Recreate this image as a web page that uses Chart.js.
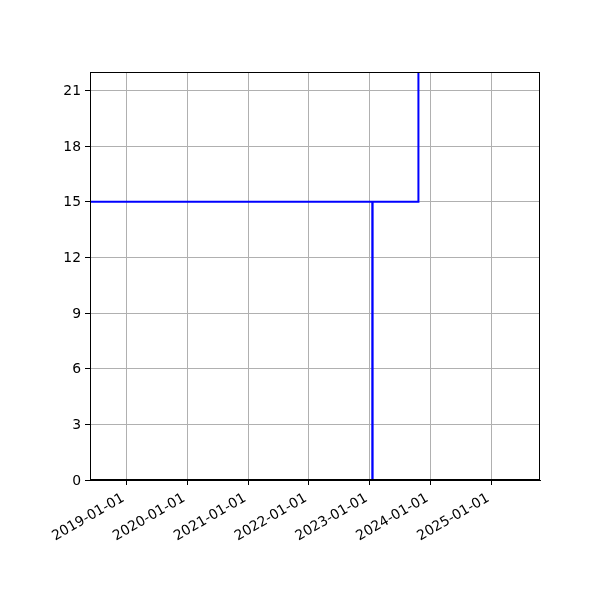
<!DOCTYPE html>
<html>
<head>
<meta charset="utf-8">
<script src="https://cdn.jsdelivr.net/npm/chart.js@4.4.1/dist/chart.umd.min.js"></script>
<style>
  html, body { margin: 0; padding: 0; background: #fff; }
  #wrap { width: 600px; height: 600px; }
</style>
</head>
<body>
<div id="wrap"><canvas id="c" width="600" height="600"></canvas></div>
<script>
// ---- data ----
const stepDates = ['2018-01-01', '2023-01-17', '2023-01-19', '2023-10-21'];
const stepValues = [15, 0, 15, 30];
const xTickLabels = ['2019-01-01', '2020-01-01', '2021-01-01', '2022-01-01', '2023-01-01', '2024-01-01', '2025-01-01'];
const yTickValues = [0, 3, 6, 9, 12, 15, 18, 21];
const xRange = ['2018-05-28', '2025-10-20'];
const yRange = [0, 22];

const toMs = s => Date.parse(s + 'T00:00:00Z');
const pad2 = n => String(n).padStart(2, '0');
const fmt = ms => { const d = new Date(ms); return d.getUTCFullYear() + '-' + pad2(d.getUTCMonth() + 1) + '-' + pad2(d.getUTCDate()); };

const points = stepDates.map((d, i) => ({ x: toMs(d), y: stepValues[i] }));

const frame = {
  id: 'frame',
  afterDatasetsDraw(chart) {
    const a = chart.chartArea, ctx = chart.ctx;
    ctx.save();
    ctx.strokeStyle = '#000';
    ctx.lineWidth = 1;
    ctx.strokeRect(Math.round(a.left) + 0.5, Math.round(a.top) + 0.5, Math.round(a.right - a.left) - 1, Math.round(a.bottom - a.top) - 1);
    ctx.restore();
  }
};

const FONT = { family: 'DejaVu Sans', size: 13.9 };

new Chart(document.getElementById('c'), {
  type: 'line',
  data: {
    datasets: [{
      data: points,
      stepped: 'before',
      borderColor: '#0000ff',
      borderWidth: 2,
      pointRadius: 0,
      fill: false,
      tension: 0
    }]
  },
  options: {
    responsive: false,
    animation: false,
    devicePixelRatio: 1,
    layout: { padding: { left: 0, right: 60, top: 72, bottom: 0 } },
    plugins: { legend: { display: false }, tooltip: { enabled: false } },
    scales: {
      x: {
        type: 'linear',
        min: toMs(xRange[0]),
        max: toMs(xRange[1]),
        afterBuildTicks(scale) { scale.ticks = xTickLabels.map(s => ({ value: toMs(s) })); },
        afterFit(scale) { scale.height = 120; },
        ticks: {
          color: '#000',
          font: FONT,
          padding: 5,
          labelOffset: -3,
          autoSkip: false,
          maxRotation: 30,
          minRotation: 30,
          callback: v => fmt(v)
        },
        grid: { color: '#b0b0b0', lineWidth: 1, tickColor: '#000', tickLength: 5 },
        border: { color: '#000', width: 1 }
      },
      y: {
        type: 'linear',
        min: yRange[0],
        max: yRange[1],
        afterBuildTicks(scale) { scale.ticks = yTickValues.map(v => ({ value: v })); },
        afterFit(scale) { scale.width = 90; },
        ticks: { color: '#000', font: FONT, padding: 4, labelOffset: 1, callback: v => String(v) },
        grid: { color: '#b0b0b0', lineWidth: 1, tickColor: '#000', tickLength: 5 },
        border: { color: '#000', width: 1 }
      }
    }
  },
  plugins: [frame]
});
</script>
</body>
</html>
